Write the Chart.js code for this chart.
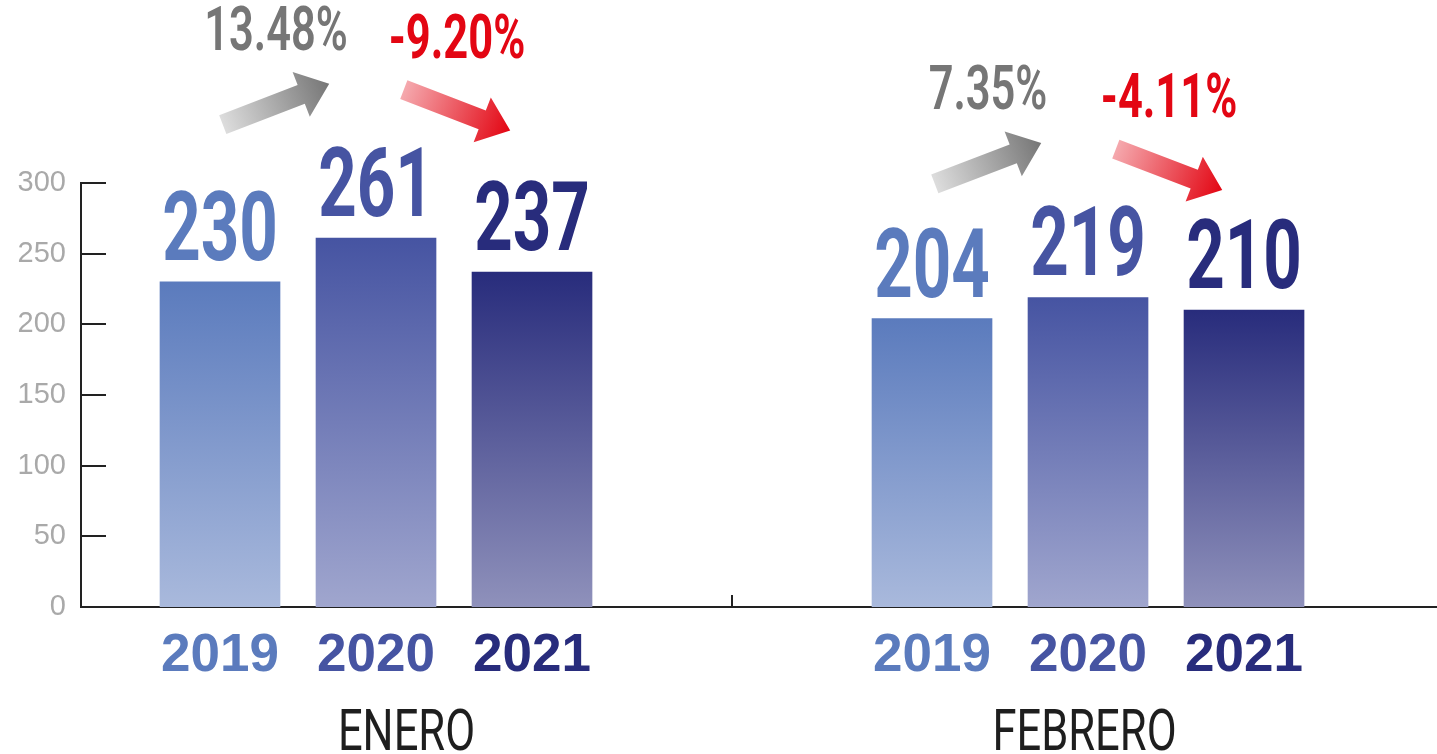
<!DOCTYPE html>
<html>
<head>
<meta charset="utf-8">
<script src="https://cdn.jsdelivr.net/npm/chart.js@4.4.1/dist/chart.umd.min.js"></script>
<style>
html,body{margin:0;padding:0;background:#fff;}
#wrap{width:1437px;height:754px;position:relative;}
</style>
</head>
<body>
<div id="wrap"><canvas id="c"></canvas></div>
<script>
// ---- data ----
const groups = ['ENERO', 'FEBRERO'];
const years = ['2019', '2020', '2021'];
const values2019 = [230, 204];
const values2020 = [261, 219];
const values2021 = [237, 210];
const yTicks = [0, 50, 100, 150, 200, 250, 300];

// ---- styles / layout ----
const series = [values2019, values2020, values2021];
const topColors = ['#5b7bbd', '#4654a2', '#282c7c'];
const bottomColors = ['#a9b9dc', '#a0a6ce', '#8f91bb'];
const GROUP_STEP = 4.564;
const X_MIN = -0.891, X_MAX = 7.801;
const DIVIDER = (2 + GROUP_STEP) / 2;

function xFor(gi, yi) { return gi * GROUP_STEP + yi; }

const datasets = years.map((yr, yi) => ({
  label: yr,
  data: groups.map((g, gi) => ({ x: xFor(gi, yi), y: series[yi][gi] })),
  grouped: false,
  barThickness: 120,
  borderWidth: 0,
  backgroundColor: (ctx) => {
    const chart = ctx.chart;
    if (!chart.chartArea || ctx.type !== 'data' || !ctx.parsed) return topColors[yi];
    const ys = chart.scales.y;
    const t = ys.getPixelForValue(ctx.parsed.y);
    const b = ys.getPixelForValue(0);
    const grd = chart.ctx.createLinearGradient(0, t, 0, b);
    grd.addColorStop(0, topColors[yi]);
    grd.addColorStop(1, bottomColors[yi]);
    return grd;
  }
}));

function drawCondensed(ctx, text, x, y, font, color, sx) {
  ctx.save();
  ctx.font = font;
  ctx.fillStyle = color;
  ctx.textAlign = 'center';
  ctx.textBaseline = 'alphabetic';
  ctx.translate(x, y);
  ctx.scale(sx, 1);
  ctx.fillText(text, 0, 0);
  ctx.restore();
}

function drawArrow(ctx, cx, cy, up, c0, c1) {
  const L = 114, sw = 10, hw = 24, hl = 30;
  const ang = (up ? -1 : 1) * 21 * Math.PI / 180;
  ctx.save();
  ctx.translate(cx, cy);
  ctx.rotate(ang);
  const g = ctx.createLinearGradient(-L / 2, 0, L / 2, 0);
  g.addColorStop(0, c0);
  g.addColorStop(1, c1);
  ctx.fillStyle = g;
  ctx.beginPath();
  ctx.moveTo(-L / 2, -sw);
  ctx.lineTo(L / 2 - hl, -sw);
  ctx.lineTo(L / 2 - hl, -hw);
  ctx.lineTo(L / 2, 0);
  ctx.lineTo(L / 2 - hl, hw);
  ctx.lineTo(L / 2 - hl, sw);
  ctx.lineTo(-L / 2, sw);
  ctx.closePath();
  ctx.fill();
  ctx.restore();
}

const decor = {
  id: 'decor',
  afterDatasetsDraw(chart) {
    const ctx = chart.ctx;
    const xs = chart.scales.x, ys = chart.scales.y;
    const area = chart.chartArea;
    // inner y ticks
    ctx.save();
    ctx.strokeStyle = '#222';
    ctx.lineWidth = 2;
    yTicks.forEach(v => {
      if (v === 0) return;
      const py = Math.round(ys.getPixelForValue(v));
      ctx.beginPath();
      ctx.moveTo(area.left, py);
      ctx.lineTo(area.left + 25, py);
      ctx.stroke();
    });
    // divider tick
    const dx = Math.round(xs.getPixelForValue(DIVIDER));
    ctx.beginPath();
    ctx.moveTo(dx, area.bottom - 12);
    ctx.lineTo(dx, area.bottom);
    ctx.stroke();
    ctx.restore();

    // value labels
    years.forEach((yr, yi) => {
      const meta = chart.getDatasetMeta(yi);
      meta.data.forEach((el, gi) => {
        drawCondensed(ctx, String(series[yi][gi]), el.x, el.y - 22,
          'bold 96px Roboto', topColors[yi], 0.7);
      });
    });

    // change arrows and percentages
    groups.forEach((g, gi) => {
      const m1 = chart.getDatasetMeta(1).data[gi];
      const yref = m1.y;
      for (let p = 0; p < 2; p++) {
        const a = chart.getDatasetMeta(p).data[gi];
        const b = chart.getDatasetMeta(p + 1).data[gi];
        const pct = (series[p + 1][gi] / series[p][gi] - 1) * 100;
        const up = pct >= 0;
        const cx = (a.x + b.x) / 2 + (p === 0 ? -22 : 3);
        const ay = yref + (p === 0 ? -134 : -128);
        if (up) drawArrow(ctx, cx, ay, true, '#dddddd', '#767676');
        else drawArrow(ctx, cx, ay, false, '#f5a9ae', '#e30613');
        const ty = yref + (p === 0 ? -188 : -180);
        drawCondensed(ctx, pct.toFixed(2) + '%', cx, ty,
          (up ? '600' : 'bold') + ' 62px Roboto', up ? '#767676' : '#e30613', 0.7);
      }
    });

    // group labels
    const centers = [(area.left + dx) / 2, (dx + area.right) / 2];
    groups.forEach((g, gi) => {
      drawCondensed(ctx, g, centers[gi], 750, '400 58px Roboto', '#1e1e1e', 0.75);
    });
  }
};

new Chart(document.getElementById('c'), {
  type: 'bar',
  data: { datasets },
  plugins: [decor],
  options: {
    responsive: true,
    maintainAspectRatio: false,
    animation: false,
    layout: { padding: { top: 183, right: 0, left: 0, bottom: 0 } },
    plugins: { legend: { display: false }, tooltip: { enabled: false } },
    scales: {
      x: {
        type: 'linear',
        min: X_MIN,
        max: X_MAX,
        offset: false,
        afterBuildTicks: (scale) => {
          const t = [];
          groups.forEach((g, gi) => years.forEach((yr, yi) => t.push({ value: xFor(gi, yi) })));
          scale.ticks = t;
        },
        afterFit: (scale) => { scale.height = 147; },
        grid: { display: false, drawTicks: false, offset: false },
        border: { display: true, color: '#222', width: 2 },
        ticks: {
          autoSkip: false,
          maxRotation: 0,
          padding: 18,
          font: { family: 'Liberation Sans', weight: 'bold', size: 53 },
          color: (ctx) => topColors[ctx.index % 3],
          callback: (v, i) => years[i % 3]
        }
      },
      y: {
        min: 0,
        max: 300,
        afterBuildTicks: (scale) => { scale.ticks = yTicks.map(v => ({ value: v })); },
        afterFit: (scale) => { scale.width = 81; },
        grid: { display: false, drawTicks: false },
        border: { display: true, color: '#222', width: 2 },
        ticks: {
          padding: 15,
          font: { family: 'Liberation Sans', size: 29 },
          color: '#a9a9a9'
        }
      }
    }
  }
});
</script>
</body>
</html>
